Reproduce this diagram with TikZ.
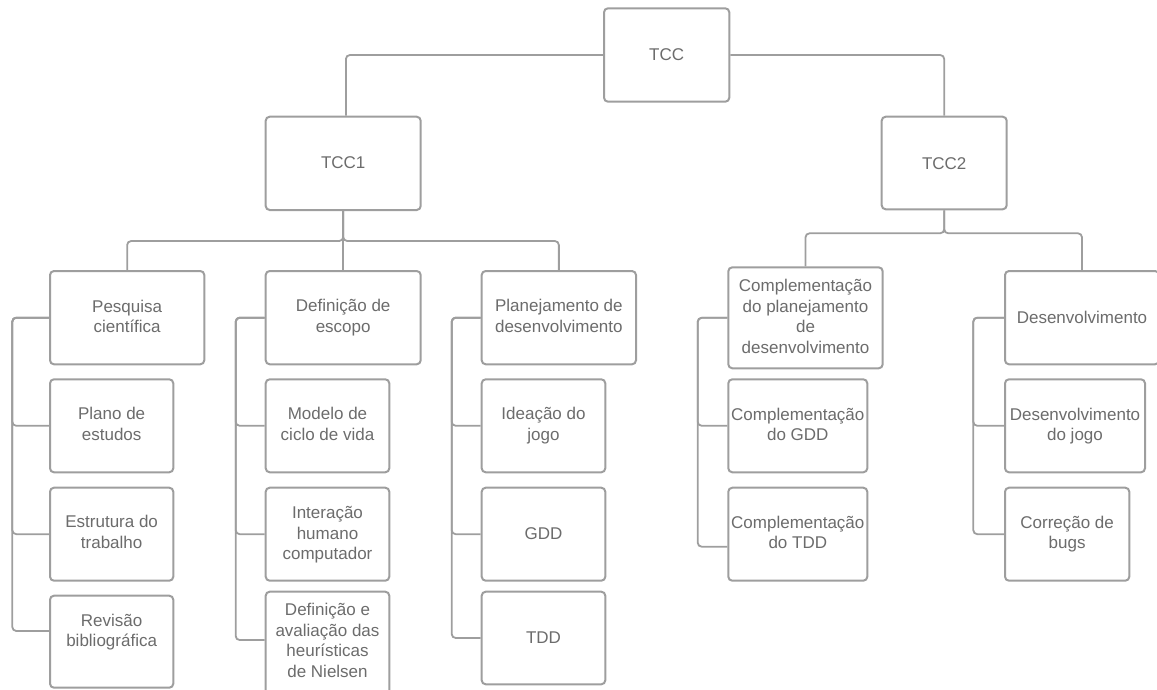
\documentclass[tikz,border=0pt]{standalone}
\usepackage{fontspec}
\setmainfont{Liberation Sans}
\usetikzlibrary{fit}

\definecolor{edge}{RGB}{158,158,158}
\definecolor{ink}{RGB}{108,108,108}

% fixed line height/depth so that multi-line labels centre on their x-height band
\newcommand\tstrut{\rule[-4.4pt]{0pt}{13.2pt}}

% #1 name, #2-#5 corners (x1,y1,x2,y2), #6 label centre y, #7 label
\newcommand\orgbox[7]{%
  \node[box, fit={(#2,#3) (#4,#5)}] (#1) {};
  \node[txt] (#1-t) at ({(#2+#4)/2},#6) {\tstrut #7\tstrut};}

% #1 bracket coordinate, #2 parent, #3 child, #4 vertical offset of the entry point
\newcommand\branch[4]{%
  \coordinate (#3-in) at ([yshift=#4]#3.west);
  \draw[conn] (#2.west) -| (#1 |- #3-in) -- (#3-in);}

\begin{document}
\begin{tikzpicture}[x=1pt, y=-1pt,
  box/.style={draw=edge, line width=2pt, rounded corners=4pt, fill=white, inner sep=0pt},
  txt/.style={text=ink, align=center, inner sep=0pt, yshift=-2.5pt,
              font=\fontsize{17pt}{20.5pt}\selectfont},
  conn/.style={draw=edge, line width=1.8pt, rounded corners=4pt}]

\useasboundingbox (0,0) rectangle (1157,689);
\clip (0,0) rectangle (1157,689);

% ---- root and the two phases
\orgbox{tcc}{604}{8.3}{729.3}{101.7}{54.5}{TCC}
\orgbox{tcc1}{265.7}{116.7}{420.7}{210}{162.5}{TCC1}
\orgbox{tcc2}{881.7}{116.7}{1006.7}{209.3}{163.3}{TCC2}

% ---- TCC1: research
\orgbox{pesq}{50}{271}{204.3}{364.3}{316}{Pesquisa\\científica}
\orgbox{plano}{50}{379.3}{173.3}{472.3}{423.3}{Plano de\\estudos}
\orgbox{estr}{50}{487.7}{173.3}{580.7}{531.7}{Estrutura do\\trabalho}
\orgbox{rev}{50}{595.7}{173.3}{687.7}{630}{Revisão\\bibliográfica}

% ---- TCC1: scope
\orgbox{defe}{265.7}{271}{420.7}{364.3}{315.7}{Definição de\\escopo}
\orgbox{mod}{265.7}{379.3}{389.3}{472.3}{423.3}{Modelo de\\ciclo de vida}
\orgbox{ihc}{265.7}{487.7}{389.3}{580.7}{532.7}{Interação\\humano\\computador}
\orgbox{heur}{265.7}{591.7}{389.3}{700}{640}{Definição e\\avaliação das\\heurísticas\\de Nielsen}

% ---- TCC1: planning
\orgbox{plan}{481.7}{271}{636}{364.3}{315.7}{Planejamento de\\desenvolvimento}
\orgbox{idea}{481.7}{379.3}{605.3}{472.3}{423.3}{Ideação do\\jogo}
\orgbox{gdd}{481.7}{487.7}{605.3}{580.7}{533.3}{GDD}
\orgbox{tdd}{481.7}{591.7}{605.3}{684.3}{637}{TDD}

% ---- TCC2: planning complement
\orgbox{cplan}{728.3}{267.3}{882.7}{368.3}{316}{Complementação\\do planejamento\\de\\desenvolvimento}
\orgbox{cgdd}{728.3}{379.3}{867.3}{472.3}{423.8}{Complementação\\do GDD}
\orgbox{ctdd}{728.3}{487.7}{867.3}{580.7}{532}{Complementação\\do TDD}

% ---- TCC2: development
\orgbox{dev}{1005}{271}{1159}{364.3}{316.7}{Desenvolvimento}
\orgbox{djogo}{1005}{379.3}{1145}{472.3}{423.8}{Desenvolvimento\\do jogo}
\orgbox{bugs}{1005}{487.7}{1129.3}{580.7}{532}{Correção de\\bugs}

% ---- bus levels and bracket columns
\coordinate (busA) at (0,241);
\coordinate (busB) at (0,233.3);
\coordinate (brA) at (12.3,0);
\coordinate (brB) at (235.7,0);
\coordinate (brC) at (451.7,0);
\coordinate (brD) at (697.7,0);
\coordinate (brE) at (973.3,0);

% ---- root to phases
\draw[conn] (tcc.west) -| ([xshift=2.7pt]tcc1.north);
\draw[conn] (tcc.east) -| (tcc2.north);

% ---- phase buses
\draw[conn] (tcc1.south) -- (tcc1.south |- busA) -| (pesq.north);
\draw[conn] (tcc1.south) -- (tcc1.south |- busA) -| (plan.north);
\draw[conn] (tcc1.south) -- (defe.north);
\draw[conn] (tcc2.south) -- (tcc2.south |- busB) -| (cplan.north);
\draw[conn] (tcc2.south) -- (tcc2.south |- busB) -| (dev.north);

% ---- side brackets
\branch{brA}{pesq}{plano}{0pt}
\branch{brA}{pesq}{estr}{0pt}
\branch{brA}{pesq}{rev}{10.7pt}

\branch{brB}{defe}{mod}{0pt}
\branch{brB}{defe}{ihc}{0pt}
\branch{brB}{defe}{heur}{5.8pt}

\branch{brC}{plan}{idea}{0pt}
\branch{brC}{plan}{gdd}{0pt}
\branch{brC}{plan}{tdd}{0pt}

\branch{brD}{cplan}{cgdd}{0pt}
\branch{brD}{cplan}{ctdd}{-12.5pt}

\branch{brE}{dev}{djogo}{0pt}
\branch{brE}{dev}{bugs}{0pt}

\end{tikzpicture}
\end{document}
